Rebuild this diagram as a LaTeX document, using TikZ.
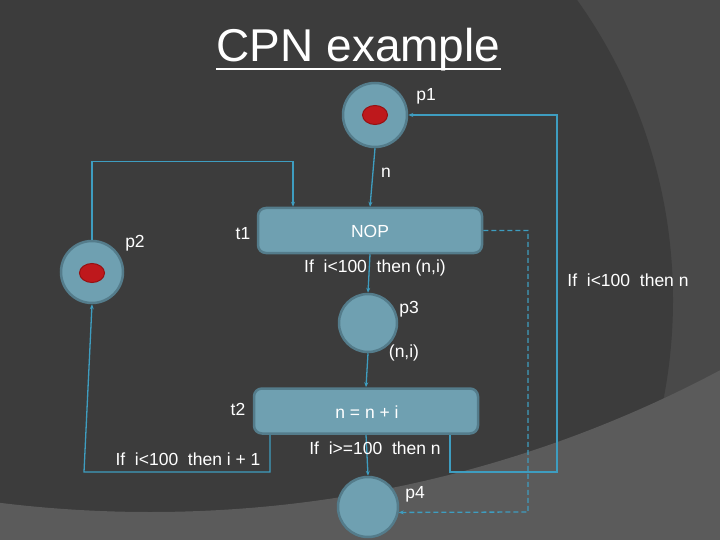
\documentclass[tikz,border=0pt]{standalone}
\usepackage{fontspec}
\setmainfont{Liberation Sans}
\usetikzlibrary{arrows.meta,shapes.geometric}
\definecolor{bgdark}{RGB}{60,60,60}
\definecolor{bgmid}{RGB}{73,73,73}
\definecolor{bglight}{RGB}{91,91,91}
\definecolor{nodefill}{RGB}{111,160,177}
\definecolor{nodeborder}{RGB}{84,124,139}
\definecolor{arccol}{RGB}{62,157,192}
\definecolor{tokred}{RGB}{190,24,28}
\definecolor{tokborder}{RGB}{150,16,18}
\tikzset{
  place/.style={circle,fill=nodefill,draw=nodeborder,line width=2.5pt,inner sep=0pt},
  trans/.style={rectangle,rounded corners=8pt,fill=nodefill,draw=nodeborder,line width=2.5pt,minimum width=224pt,minimum height=45pt,inner sep=0pt},
  token/.style={ellipse,fill=tokred,draw=tokborder,line width=1pt,minimum width=25pt,minimum height=19pt,inner sep=0pt},
  arc/.style={draw=arccol,line width=1.3pt,-{Stealth[length=5pt,width=4pt]}},
  lbl/.style={text=white,inner sep=0pt,font=\fontsize{17.5}{21}\selectfont}
}
\begin{document}
\begin{tikzpicture}[x=1pt,y=-1pt]
\useasboundingbox (0,0) rectangle (720,540);
\begin{scope}
\clip (0,0) rectangle (720,540);
\fill[bgmid] (0,0) rectangle (720,540);
\fill[bgdark] (156,300) circle (517pt);
\fill[bglight,even odd rule] (-10,-10) rectangle (730,550) (150,-703) circle (1215pt);
\end{scope}

% title
\node[text=white,inner sep=0pt,anchor=base,font=\fontsize{46}{50}\selectfont] (title) at (358.5,62) {CPN example};
\draw[white,line width=2.5pt] ([yshift=-7pt]title.base west) -- ([yshift=-7pt]title.base east);

% places and transitions
\node[place,minimum size=64pt] (p1) at (375,115) {};
\node[place,minimum size=62pt] (p2) at (92,272) {};
\node[place,minimum size=58pt] (p3) at (368,323) {};
\node[place,minimum size=60pt] (p4) at (368,507) {};
\node[trans] (t1) at (370,230.5) {};
\node[trans] (t2) at (366,411) {};
\node[token] (k1) at (p1.center) {};
\node[token] (k2) at (92,273) {};

% coordinates
\coordinate (c2) at (84,472);
\coordinate (c3) at (557,472);
\coordinate (c4) at (528,512);

% arcs
\draw[arc] (p1.south) -- (t1.north);
\draw[arc] (p2.north) -- ++(0,-78) -| ([xshift=-77pt]t1.north);
\draw[arc] (t1.south) -- (p3.north);
\draw[arc] (p3.south) -- (t2.north);
\draw[arc] (t2.south) -- (p4.north);
\draw[arc] ([xshift=-96pt]t2.south) |- (c2) -- (p2.south);
\draw[arc] ([xshift=84pt]t2.south) |- (c3) |- (p1.east);
\draw[arc,dashed,dash pattern=on 5pt off 3pt] (t1.east) -| (c4) -- (p4.-10);

% labels
\node[lbl] (lp1) at (426,96) {p1};
\node[lbl] (ln) at (386,173) {n};
\node[lbl] (lt1) at (243,234) {t1};
\node[lbl] (lp2) at (135,243) {p2};
\node[lbl] (lnop) at (370,231) {NOP};
\node[lbl] (lg1) at (375,268) {If\ \ i<100\ \ then (n,i)};
\node[lbl] (lp3) at (409,309) {p3};
\node[lbl] (lni) at (404,353) {(n,i)};
\node[lbl] (lt2) at (238,409) {t2};
\node[lbl] (lexp) at (367,412) {n = n + i};
\node[lbl] (lg2) at (188,459) {If\ \ i<100\ \ then i + 1};
\node[lbl] (lg3) at (375,448) {If\ \ i>=100\ \ then n};
\node[lbl] (lp4) at (415,494) {p4};
\node[lbl] (lg4) at (628,280) {If\ \ i<100\ \ then n};
\end{tikzpicture}
\end{document}
